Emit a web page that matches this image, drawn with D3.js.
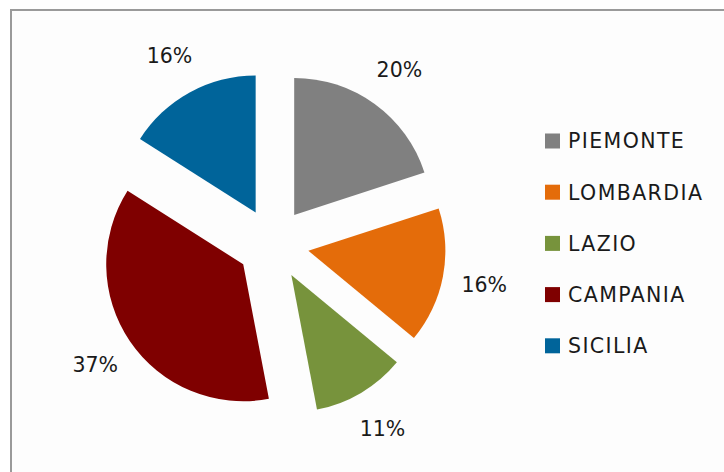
<!DOCTYPE html>
<html>
<head>
<meta charset="utf-8">
<script src="https://cdn.jsdelivr.net/npm/d3@7"></script>
<style>
    body { margin: 0; background: #ffffff; }
    svg { display: block; }
</style>
</head>
<body>
<script>
var regions = ["PIEMONTE", "LOMBARDIA", "LAZIO", "CAMPANIA", "SICILIA"];
var shares = [20, 16, 11, 37, 16];
var colors = ["#808080", "#E46C0A", "#77933C", "#7F0000", "#00649A"];

var width = 724;
var height = 472;
var cx = 273;
var cy = 244;
var radius = 137;
var explode = 36;
var labelRadius = 215;

var svg = d3.select("body")
    .append("svg")
    .attr("width", width)
    .attr("height", height);

// chart frame
svg.append("rect")
    .attr("x", 11)
    .attr("y", 10)
    .attr("width", 760)
    .attr("height", 500)
    .attr("fill", "#fdfdfd")
    .attr("stroke", "#9a9a9a")
    .attr("stroke-width", 2);

var data = regions.map(function(r, i) {
    return { name: r, value: shares[i], color: colors[i] };
});

var pie = d3.pie()
    .sort(null)
    .value(function(d) { return d.value; });

var arc = d3.arc()
    .innerRadius(0)
    .outerRadius(radius);

var labelArc = d3.arc()
    .innerRadius(labelRadius)
    .outerRadius(labelRadius);

var total = d3.sum(shares);
var slices = pie(data);

var canvas = svg.append("g")
    .attr("transform", "translate(" + cx + "," + cy + ")");

// exploded slices
canvas.selectAll("path.slice")
    .data(slices)
    .enter()
    .append("path")
    .attr("class", "slice")
    .attr("d", arc)
    .attr("fill", function(d) { return d.data.color; })
    .attr("transform", function(d) {
        var a = (d.startAngle + d.endAngle) / 2;
        return "translate(" + (Math.sin(a) * explode) + "," + (-Math.cos(a) * explode) + ")";
    });

// percentage labels
canvas.selectAll("text.pct")
    .data(slices)
    .enter()
    .append("text")
    .attr("class", "pct")
    .attr("transform", function(d) {
        return "translate(" + labelArc.centroid(d) + ")";
    })
    .attr("text-anchor", "middle")
    .attr("dy", "0.36em")
    .style("font-family", "'DejaVu Sans', Verdana, sans-serif")
    .style("font-size", "20.5px")
    .style("fill", "#1a1a1a")
    .text(function(d) { return Math.round(d.data.value / total * 100) + "%"; });

// legend
var legend = svg.append("g")
    .attr("transform", "translate(545,141)");

var rows = legend.selectAll("g.row")
    .data(data)
    .enter()
    .append("g")
    .attr("class", "row")
    .attr("transform", function(d, i) { return "translate(0," + (i * 51.2) + ")"; });

rows.append("rect")
    .attr("x", 0)
    .attr("y", -7.5)
    .attr("width", 15)
    .attr("height", 15)
    .attr("fill", function(d) { return d.color; });

rows.append("text")
    .attr("x", 23)
    .attr("dy", "0.36em")
    .style("font-family", "'DejaVu Sans', Verdana, sans-serif")
    .style("font-size", "20.5px")
    .style("letter-spacing", "1.4px")
    .style("fill", "#1a1a1a")
    .text(function(d) { return d.name; });
</script>
</body>
</html>
